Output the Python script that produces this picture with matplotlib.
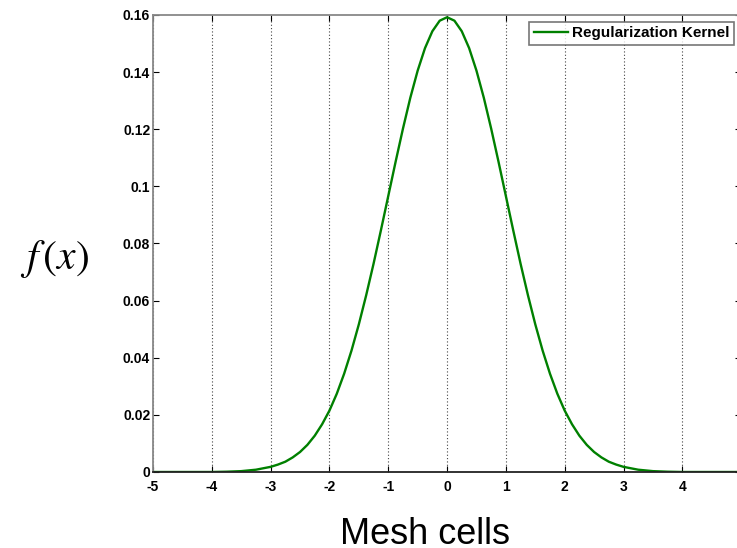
import matplotlib
matplotlib.use("Agg")
import matplotlib.pyplot as plt

# values
x_vals = [-5, -4.5, -4, -3.75, -3.5, -3.25, -3, -2.875, -2.75, -2.625, -2.5, -2.375, -2.25, -2.125,
          -2, -1.875, -1.75, -1.625, -1.5, -1.375, -1.25, -1.125, -1, -0.875, -0.75, -0.625,
          -0.5, -0.375, -0.25, -0.125, 0,
          0.125, 0.25, 0.375, 0.5, 0.625, 0.75, 0.875, 1, 1.125, 1.25, 1.375, 1.5, 1.625,
          1.75, 1.875, 2, 2.125, 2.25, 2.375, 2.5, 2.625, 2.75, 2.875, 3, 3.25, 3.5, 3.75, 4, 4.5, 5]
kernel = [0, 0, 0, 0.0001, 0.0003, 0.0008, 0.0018, 0.0026, 0.0036, 0.0051, 0.0070, 0.0095, 0.0127, 0.0167,
          0.0215, 0.0274, 0.0344, 0.0425, 0.0517, 0.0619, 0.0729, 0.0846, 0.0966, 0.1086, 0.1202, 0.1310,
          0.1405, 0.1484, 0.1543, 0.1580, 0.1592,
          0.1580, 0.1543, 0.1484, 0.1405, 0.1310, 0.1202, 0.1086, 0.0966, 0.0846, 0.0729, 0.0619, 0.0517, 0.0425,
          0.0344, 0.0274, 0.0215, 0.0167, 0.0127, 0.0095, 0.0070, 0.0051, 0.0036, 0.0026, 0.0018, 0.0008, 0.0003, 0.0001, 0, 0, 0]
x_ticks = [-5, -4, -3, -2, -1, 0, 1, 2, 3, 4]
x_labels = ['-5', '-4', '-3', '-2', '-1', '0', '1', '2', '3', '4']
y_ticks = [0, 0.02, 0.04, 0.06, 0.08, 0.1, 0.12, 0.14, 0.16]
y_labels = ['0', '0.02', '0.04', '0.06', '0.08', '0.1', '0.12', '0.14', '0.16']

plt.rcParams['font.family'] = ['Liberation Sans', 'DejaVu Sans']
plt.rcParams['mathtext.fontset'] = 'stix'

fig = plt.figure(figsize=(7.37, 5.48), dpi=100)
ax = fig.add_axes([0.2076, 0.1387, 0.798, 0.834])

ax.plot(x_vals, kernel, color='#008000', lw=1.7, label='Regularization Kernel')
ax.set_xlim(-5, 5)
ax.set_ylim(0, 0.16)
ax.set_xticks(x_ticks)
ax.set_xticklabels(x_labels)
ax.set_yticks(y_ticks)
ax.set_yticklabels(y_labels)
for lab in ax.get_xticklabels() + ax.get_yticklabels():
    lab.set_fontweight('bold')
ax.tick_params(direction='in', length=4, labelsize=10, top=True, right=True)
ax.tick_params(axis='x', pad=6)
ax.tick_params(axis='y', pad=2)
ax.grid(axis='x', linestyle=(0, (1, 2)), color='#444444', lw=0.8)

for side in ['left', 'top', 'right']:
    ax.spines[side].set_color('#888888')
ax.spines['bottom'].set_color('#222222')
for s in ax.spines.values():
    s.set_linewidth(1.3)

leg = ax.legend(loc='upper right', prop={'weight': 'bold', 'size': 11},
                fancybox=False, edgecolor='#555555', handlelength=2.2,
                borderaxespad=0.45, borderpad=0.3, handletextpad=0.3)
leg.get_frame().set_linewidth(1.2)

fig.text(0.074, 0.528, r'$f\,(x)$', fontsize=30, ha='center', va='center')
fig.text(0.577, 0.008, 'Mesh cells', fontsize=26, ha='center', va='baseline')

fig.savefig('out.png', dpi=100)
